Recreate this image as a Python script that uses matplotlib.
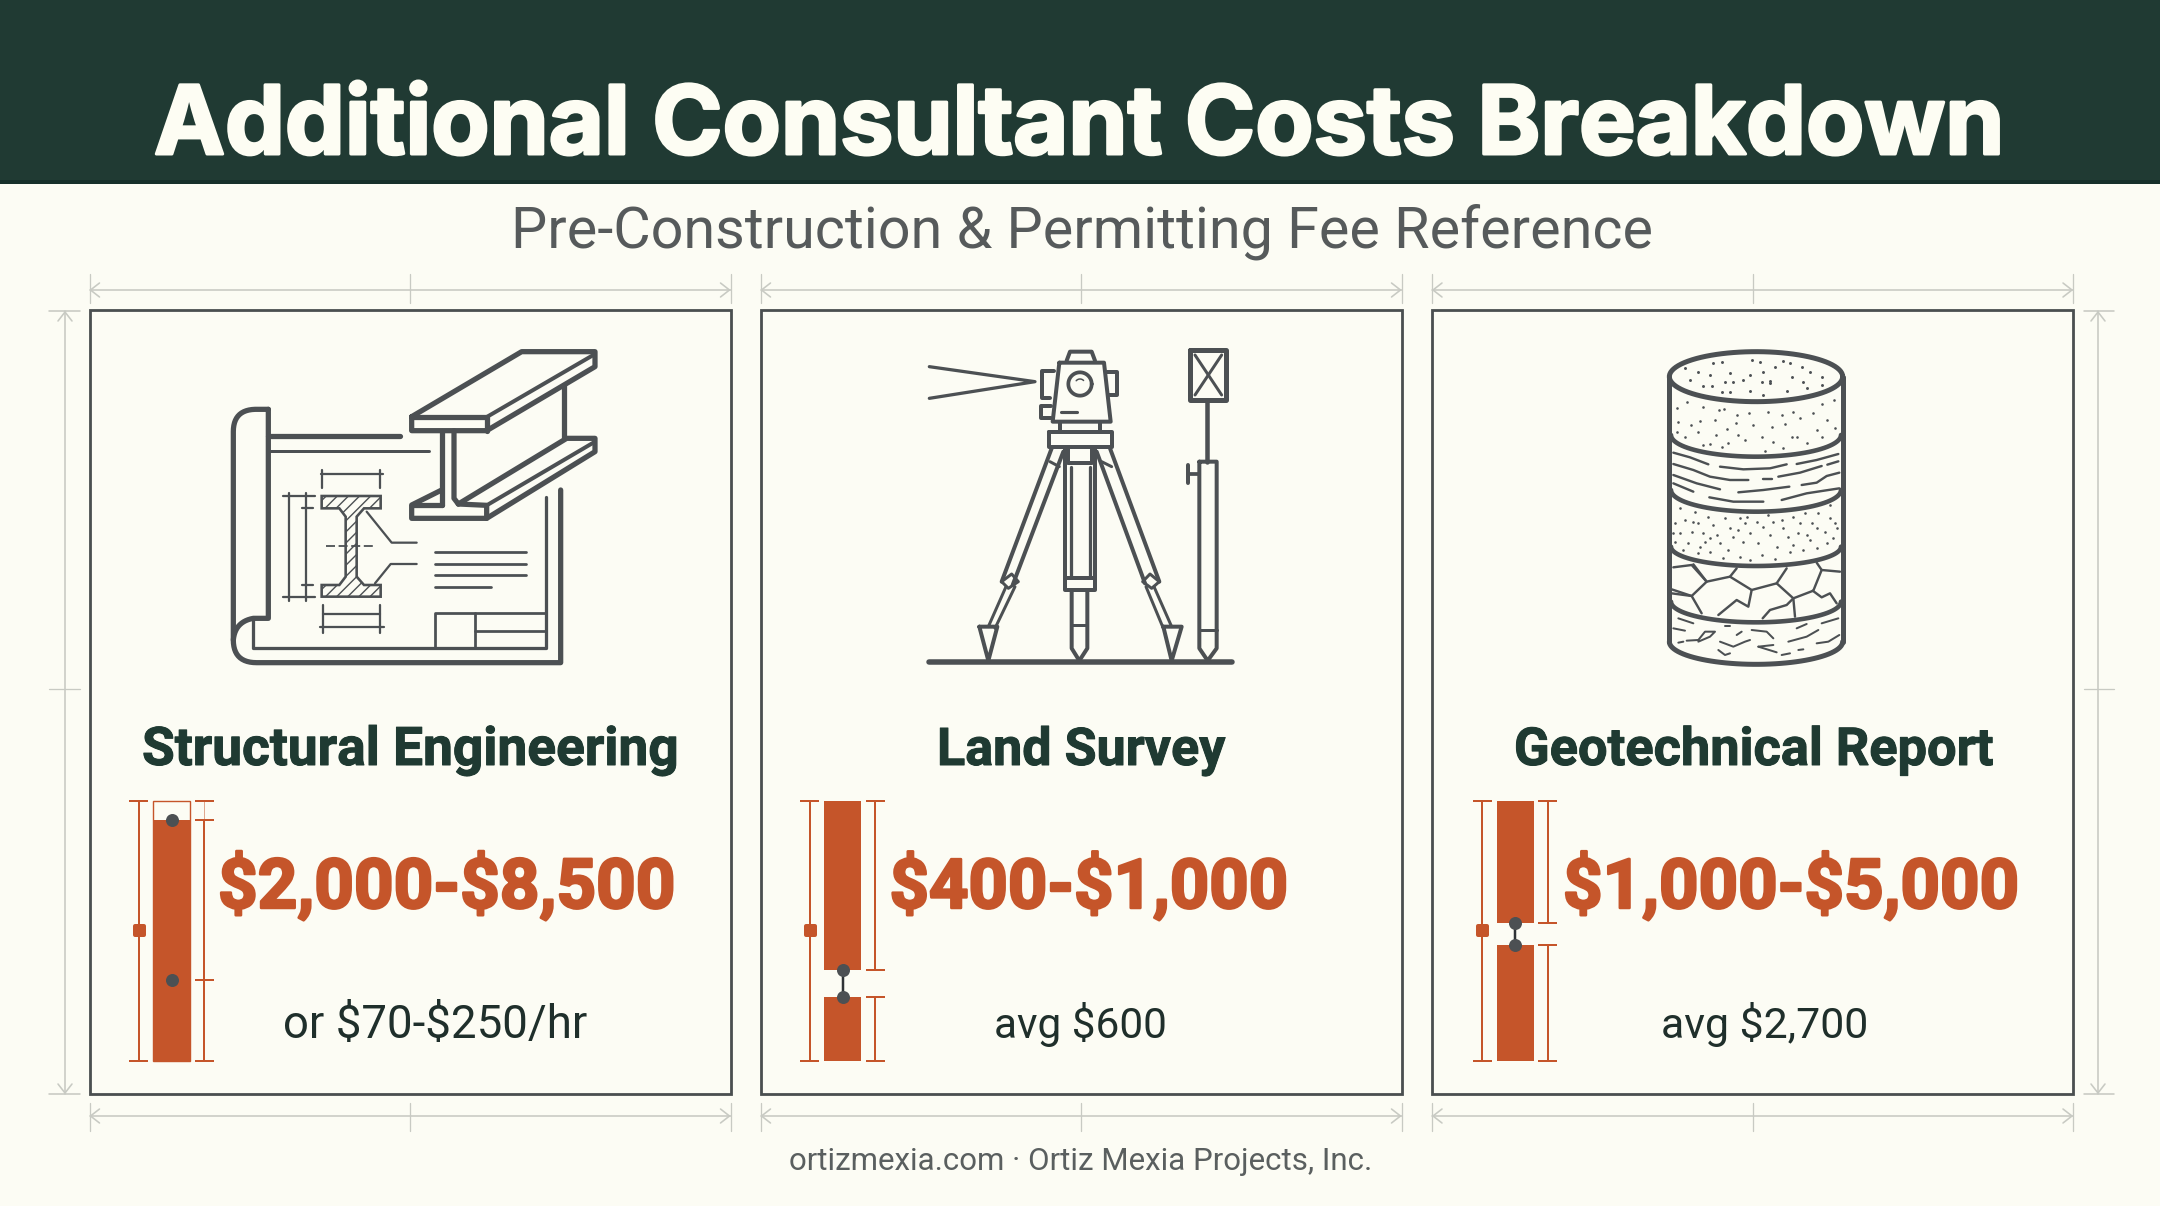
#!/usr/bin/env python3
"""Additional consultant costs infographic, drawn in pixel coordinates."""

import numpy as np
import matplotlib
matplotlib.use("Agg")
import matplotlib.pyplot as plt
import matplotlib.patheffects as pe
from matplotlib.markers import MarkerStyle
from matplotlib.patches import Polygon, Rectangle

W, H = 2160, 1206

BG = "#fcfcf4"
HEADER = "#203a33"
INK = "#4c5053"
DARK = "#1f3a32"
ORANGE = "#c5552a"
DIM = "#c8cac3"
ICON_WEIGHT = 1.25

TITLE = "Additional Consultant Costs Breakdown"
SUBTITLE = "Pre-Construction & Permitting Fee Reference"
FOOTER = "ortizmexia.com · Ortiz Mexia Projects, Inc."

CARD_TITLES = ["Structural Engineering", "Land Survey", "Geotechnical Report"]
RANGE_LABELS = ["$2,000-$8,500", "$400-$1,000", "$1,000-$5,000"]
NOTE_LABELS = ["or $70-$250/hr", "avg $600", "avg $2,700"]

# gauge readings as a share of gauge height (0 bottom, 1 top)
GAUGE_SEGMENTS = [
    [(0.0, 0.927)],
    [(0.0, 0.246), (0.35, 1.0)],
    [(0.0, 0.446), (0.531, 1.0)],
]
GAUGE_DOTS = [(0.3115, 0.927), (0.246, 0.35), (0.446, 0.531)]
GAUGE_MARK = 0.504

CARD_X = [(89.5, 730.5), (760.5, 1401.5), (1432, 2073)]
CARD_TOP, CARD_BOTTOM = 310, 1094
GAUGE_CENTER = [171.5, 842.5, 1515]
TITLE_X = [(142, 678), (937, 1225), (1514, 1993)]
RANGE_X = [(218, 675), (889.5, 1288), (1563, 2019)]
NOTE_X = [(283, 587), (994, 1167), (1661, 1868.5)]

fig = plt.figure(figsize=(W / 100, H / 100), dpi=100, facecolor=BG)
ax = fig.add_axes([0, 0, 1, 1])
ax.set_xlim(0, W)
ax.set_ylim(H, 0)
ax.axis("off")


def px(width):
    return width * 0.72


def fit_text(x0, x1, y, text, color, family, weight="normal", thicken=0):
    """Place text on baseline y, sized so it spans x0..x1."""
    t = ax.text(x0, y, text, color=color, family=family, weight=weight,
                fontsize=40, ha="left", va="baseline", parse_math=False)
    box = t.get_window_extent(fig.canvas.get_renderer())
    t.set_fontsize(40 * (x1 - x0) / box.width)
    if thicken:
        t.set_path_effects([pe.withStroke(linewidth=px(thicken), foreground=color)])
    return t


def stroke(points, width=2.0, color=INK, origin=(0, 0), scale=1.0, **kw):
    pts = np.asarray(points, dtype=float)
    ax.plot(origin[0] + pts[:, 0] * scale, origin[1] + pts[:, 1] * scale,
            color=color, lw=px(width), solid_capstyle="round",
            solid_joinstyle="round", **kw)


def curve(p0, ctrl, p1, n=14):
    s = np.linspace(0, 1, n)[:, None]
    p0, ctrl, p1 = map(np.asarray, (p0, ctrl, p1))
    return (1 - s) ** 2 * p0 + 2 * s * (1 - s) * ctrl + s ** 2 * p1


def h_dimension(x0, x1, y, top, bottom):
    stroke([(x0, y), (x1, y)], 1.6, DIM)
    for x in (x0, (x0 + x1) / 2, x1):
        stroke([(x, top), (x, bottom)], 1.3, DIM)
    stroke([(x0 + 10, y - 7), (x0 + 1, y), (x0 + 10, y + 7)], 1.6, DIM)
    stroke([(x1 - 10, y - 7), (x1 - 1, y), (x1 - 10, y + 7)], 1.6, DIM)


def v_dimension(x, y0, y1, mid, c0, c1):
    stroke([(x, y0), (x, y1)], 1.6, DIM)
    stroke([(c0, y0), (c1, y0)], 1.6, DIM)
    stroke([(c0, y1), (c1, y1)], 1.6, DIM)
    stroke([(c0, mid), (c1, mid)], 1.3, DIM)
    stroke([(x - 7, y0 + 10), (x, y0 + 1), (x + 7, y0 + 10)], 1.6, DIM)
    stroke([(x - 7, y1 - 10), (x, y1 - 1), (x + 7, y1 - 10)], 1.6, DIM)


def draw_gauge(i):
    cx = GAUGE_CENTER[i]
    g = fig.add_axes([(cx - 45) / W, 1 - 1061 / H, 90 / W, 260 / H])
    g.set_xlim(-45, 45)
    g.set_ylim(0, 1)
    g.axis("off")
    segments = GAUGE_SEGMENTS[i]
    if segments[-1][1] < 1:
        g.bar(0, 1, width=37, fill=False, edgecolor=ORANGE, lw=px(1.4), clip_on=False)
    for lo, hi in segments:
        g.bar(0, hi - lo, bottom=lo, width=37, color=ORANGE, clip_on=False)

    g.plot([-33, -33], [0, 1], color=ORANGE, lw=px(2), clip_on=False)
    for y in (0, 1):
        g.plot([-41.5, -24.5], [y, y], color=ORANGE, lw=px(2), clip_on=False)
    g.plot([-33], [GAUGE_MARK], marker=MarkerStyle("s", joinstyle="round"), ms=px(9), mew=px(4),
           color=ORANGE, clip_on=False)

    if segments[-1][1] < 1:
        g.plot([32.5, 32.5], [segments[-1][1], 1], color=ORANGE, lw=px(1), alpha=0.5, clip_on=False)
        g.plot([24, 41], [1, 1], color=ORANGE, lw=px(2), clip_on=False)
    for lo, hi in segments:
        g.plot([32.5, 32.5], [lo, hi], color=ORANGE, lw=px(2), clip_on=False)
        for y in (lo, hi):
            g.plot([24, 41], [y, y], color=ORANGE, lw=px(2), clip_on=False)

    low, high = GAUGE_DOTS[i]
    if len(segments) > 1:
        g.plot([0, 0], [low, high], color="#2f3336", lw=px(2.5), clip_on=False)
    else:
        g.plot([24, 41], [low, low], color=ORANGE, lw=px(2), clip_on=False)
    g.plot([0, 0], [low, high], ls="none", marker="o", ms=px(13), color=INK, mew=0, clip_on=False)


def draw_blueprint():
    o, k = (200, 320), 1 / 3
    def s(points, width=2.0):
        stroke(points, width * ICON_WEIGHT, origin=o, scale=k)

    # sheet and roll
    s(np.vstack([[(205, 268), (165, 268)], curve((165, 268), (100, 270), (100, 335)),
                 [(100, 960)], curve((100, 960), (100, 1028), (170, 1028)),
                 [(1082, 1028), (1082, 510)]]), 4.2)
    s(np.vstack([[(205, 268), (205, 895), (160, 895)], curve((160, 895), (105, 905), (100, 960))]), 4.2)
    s([(160, 895), (160, 985), (1038, 985), (1038, 532)], 2.6)
    s([(205, 348), (600, 348)], 4.2)
    s([(205, 392), (688, 392)], 2.4)
    # title block and notes
    s([(705, 985), (705, 880), (1035, 880)], 2.2)
    s([(826, 880), (826, 985)], 2.2)
    s([(826, 932), (1035, 932)], 2.2)
    for y, x1 in zip((695, 731, 766, 801), (978, 978, 978, 873)):
        s([(706, y), (x1, y)], 2.2)
    # hatched section
    section = np.array([(365, 528), (542, 528), (542, 565), (492, 565), (470, 590), (470, 770),
                        (492, 795), (542, 795), (542, 830), (365, 830), (365, 795), (418, 795),
                        (437, 770), (437, 590), (418, 565), (365, 565)], dtype=float)
    plt.rcParams["hatch.linewidth"] = 1.0
    ax.add_patch(Polygon(o + section * k, closed=True, fill=False, edgecolor=INK,
                         hatch="///", lw=px(2.6)))
    stroke([(378, 678), (528, 678)], 1.8, origin=o, scale=k, ls=(0, (5, 2)))
    s([(500, 575), (575, 668), (650, 668)], 1.8)
    s([(525, 790), (572, 732), (650, 732)], 1.8)
    # dimensions
    s([(362, 462), (550, 462)], 1.8)
    s([(365, 450), (365, 505)], 1.8)
    s([(540, 450), (540, 505)], 1.8)
    s([(368, 883), (540, 883)], 1.8)
    s([(360, 922), (552, 922)], 1.8)
    s([(368, 855), (368, 938)], 1.8)
    s([(540, 855), (540, 938)], 1.8)
    s([(268, 518), (268, 842)], 1.8)
    s([(318, 518), (318, 842)], 1.8)
    s([(250, 528), (345, 528)], 1.8)
    s([(305, 565), (340, 565)], 1.8)
    s([(305, 795), (340, 795)], 1.8)
    s([(250, 830), (345, 830)], 1.8)
    # steel beam in perspective
    shape = np.array([(635, 290), (965, 95), (1185, 95), (1185, 140), (1092, 195), (1092, 355),
                      (1185, 355), (1185, 395), (860, 595), (635, 595), (635, 555), (725, 510),
                      (725, 332), (635, 332)], dtype=float)
    ax.add_patch(Polygon(o + shape * k, closed=True, color=BG, zorder=2.1, lw=0))
    def b(points, width=4.2):
        stroke(points, width * ICON_WEIGHT, origin=o, scale=k, zorder=2.2)
    b([(635, 290), (965, 95), (1185, 95), (1185, 140), (860, 332), (635, 332), (635, 290)])
    b([(635, 290), (862, 290), (862, 332)])
    b([(862, 290), (1180, 105)], 3.2)
    b([(1092, 195), (1092, 355)])
    b([(725, 332), (725, 555)])
    b([(762, 332), (762, 535), (775, 552)])
    b([(775, 552), (1100, 355), (1185, 355), (1185, 395), (860, 595), (635, 595), (635, 555), (725, 510)])
    b([(635, 555), (725, 555)])
    b([(775, 552), (860, 556), (860, 595)])
    b([(860, 556), (1180, 368)], 3.2)


def draw_survey():
    o, k = (900, 320), 1 / 3
    def s(points, width=3.2):
        stroke(points, width * ICON_WEIGHT, origin=o, scale=k)

    s([(88, 1027), (995, 1027)], 4.4)
    s([(88, 140), (405, 185), (88, 235)], 2.6)
    # instrument
    s([(478, 128), (612, 128), (632, 305), (458, 305), (478, 128)])
    s([(500, 122), (510, 95), (575, 95), (585, 122)])
    s([(462, 152), (425, 152), (425, 235), (450, 235)])
    s([(620, 155), (652, 155), (652, 225), (625, 225)])
    t = np.linspace(0, 2 * np.pi, 50)
    s(np.c_[540 + 35 * np.cos(t), 192 + 35 * np.sin(t)], 3)
    s(np.c_[540 + 15 * np.cos(t[30:44]), 192 + 15 * np.sin(t[30:44])], 1.2)
    s([(452, 258), (422, 258), (422, 295), (452, 295)])
    s([(483, 275), (530, 275)], 2.5)
    s([(480, 310), (480, 337)])
    s([(600, 310), (600, 337)])
    s([(448, 337), (635, 337), (635, 380), (448, 380), (448, 337)])
    # centre column
    s([(495, 385), (495, 810), (585, 810), (585, 385)])
    s([(512, 440), (512, 772)], 2.6)
    s([(570, 440), (570, 772)], 2.6)
    s([(505, 385), (505, 428), (575, 428), (575, 385)])
    s([(495, 775), (585, 775)])
    s([(515, 810), (515, 985), (538, 1022), (562, 985), (562, 810)])
    s([(515, 915), (562, 915)], 2.4)
    # legs
    s([(455, 385), (305, 785)])
    s([(490, 395), (338, 795)])
    s([(305, 785), (335, 762), (355, 785), (325, 805), (305, 785)], 2.4)
    s([(318, 800), (265, 920)], 2.4)
    s([(345, 800), (285, 925)], 2.4)
    s([(238, 920), (292, 920), (265, 1022), (238, 920)])
    s([(450, 425), (478, 440)], 2.4)
    s([(630, 385), (778, 785)])
    s([(590, 395), (735, 790)])
    s([(778, 785), (750, 762), (728, 785), (755, 805), (778, 785)], 2.4)
    s([(762, 800), (815, 920)], 2.4)
    s([(738, 800), (790, 925)], 2.4)
    s([(790, 920), (845, 920), (815, 1022), (790, 920)])
    s([(605, 425), (635, 440)], 2.4)
    # prism pole
    s([(870, 90), (978, 90), (978, 240), (870, 240), (870, 90)], 4)
    s([(885, 105), (965, 225)], 2.4)
    s([(965, 105), (885, 225)], 2.4)
    s([(922, 240), (922, 425)], 3.6)
    s([(898, 425), (950, 425), (950, 985), (923, 1022), (898, 985), (898, 425)])
    s([(898, 930), (950, 930)], 2.4)
    s([(865, 435), (865, 490)], 3.2)
    s([(865, 462), (898, 462)], 3.0)


TOP_SPECKS = [(165, 145), (180, 180), (205, 155), (240, 165), (248, 130), (275, 127), (300, 160),
              (285, 185), (310, 185), (340, 180), (365, 120), (390, 125), (400, 155), (395, 185),
              (420, 183), (435, 142), (460, 122), (480, 128), (485, 172), (520, 187), (515, 142),
              (540, 155), (575, 170), (575, 195), (530, 205), (470, 212), (420, 190), (360, 212),
              (300, 215), (275, 215), (245, 198), (220, 197), (400, 225), (360, 165)]
SAND_SPECKS = [(140, 265), (172, 247), (220, 262), (268, 270), (282, 268), (145, 305), (182, 315),
               (210, 303), (255, 300), (320, 285), (318, 310), (358, 278), (415, 275), (455, 285),
               (490, 275), (510, 295), (550, 280), (575, 252), (612, 240), (140, 335), (205, 335),
               (290, 328), (325, 345), (370, 315), (425, 320), (465, 312), (500, 350), (560, 330),
               (590, 300), (615, 325), (165, 352), (220, 375), (258, 345), (295, 368), (345, 360),
               (395, 350), (430, 367), (485, 350), (530, 370), (575, 350), (275, 382), (405, 393),
               (460, 385), (240, 372)]
GRAVEL_SPECKS = [(150, 565), (195, 575), (235, 590), (285, 595), (330, 595), (380, 605), (430, 605),
                 (490, 590), (525, 580), (565, 578), (600, 555), (135, 610), (165, 600), (205, 610),
                 (250, 615), (300, 625), (345, 610), (400, 620), (460, 625), (510, 610), (560, 625),
                 (615, 610), (150, 640), (185, 635), (220, 640), (260, 645), (310, 650), (360, 640),
                 (420, 645), (475, 650), (530, 645), (585, 635), (620, 625), (135, 665), (175, 670),
                 (210, 680), (240, 655), (295, 690), (340, 665), (385, 670), (440, 680), (490, 675),
                 (540, 660), (590, 670), (610, 655), (160, 690), (205, 700), (240, 695), (280, 715),
                 (330, 710), (360, 720), (395, 705), (435, 718), (480, 695), (520, 690), (560, 685),
                 (225, 665), (270, 670), (325, 630), (455, 600), (505, 640), (545, 610), (190, 605),
                 (415, 585), (350, 590), (130, 640), (600, 595)]
CLAY_LINES = [[(130, 398), (180, 412), (235, 433)], [(270, 440), (340, 448), (420, 445), (470, 433)],
              [(500, 432), (560, 420), (625, 402)], [(592, 434), (625, 424)],
              [(130, 432), (190, 450), (240, 470), (300, 480), (355, 480)], [(398, 478), (425, 478)],
              [(445, 470), (510, 458), (575, 438)], [(130, 465), (200, 490), (270, 508)],
              [(515, 495), (560, 488), (590, 468), (628, 458)], [(130, 490), (190, 515)],
              [(325, 517), (400, 510), (478, 500)], [(238, 532), (310, 545), (400, 545)],
              [(455, 540), (530, 520), (628, 505)]]
ROCK_LINES = [[(130, 742), (185, 735), (230, 785), (185, 828), (125, 808)],
              [(190, 733), (230, 785), (300, 770), (320, 745)],
              [(300, 770), (365, 810), (440, 790), (470, 745)],
              [(440, 790), (490, 835), (550, 812), (575, 750), (560, 728)], [(575, 750), (630, 755)],
              [(125, 820), (185, 828), (215, 880)], [(365, 810), (355, 860), (320, 840), (265, 885)],
              [(490, 835), (470, 855), (420, 870), (398, 895)], [(490, 835), (495, 890)],
              [(548, 812), (575, 832), (600, 820), (620, 850)]]
BASE_LINES = [[(145, 895), (190, 910)], [(130, 925), (165, 932)], [(145, 968), (160, 965)],
              [(170, 962), (205, 960), (225, 935), (255, 935), (240, 950), (205, 965)],
              [(270, 965), (310, 980), (345, 965), (360, 960)], [(320, 945), (335, 935)],
              [(365, 930), (410, 935), (430, 955)], [(385, 980), (430, 975)], [(385, 980), (440, 997)],
              [(265, 990), (285, 1005), (300, 1000)], [(475, 965), (530, 950), (565, 930)],
              [(500, 925), (530, 912)], [(575, 910), (625, 895)], [(560, 970), (595, 965), (628, 945)],
              [(455, 1005), (480, 1000)], [(505, 990), (520, 988)], [(285, 918), (300, 918)]]


def draw_core():
    o, k = (1630, 320), 1 / 3
    def s(points, width=3.6):
        stroke(points, width, origin=o, scale=k)

    t = np.linspace(0, 2 * np.pi, 90)
    low = np.linspace(0, np.pi, 50)
    s(np.c_[378 + 260 * np.cos(t), 170 + 75 * np.sin(t)], 5)
    s([(118, 170), (118, 965)], 5)
    s([(640, 170), (640, 965)], 5)
    s(np.c_[378 + 260 * np.cos(low), 965 + 68 * np.sin(low)], 5)
    for y, depth in zip((345, 510, 680, 845), (65, 65, 58, 62)):
        s(np.c_[378 + 255 * np.cos(low), y + depth * np.sin(low)], 4.6)
    for specks, size in ((TOP_SPECKS, 4.5), (SAND_SPECKS, 3.5), (GRAVEL_SPECKS, 3.5)):
        pts = np.array(specks, dtype=float)
        ax.scatter(o[0] + pts[:, 0] * k, o[1] + pts[:, 1] * k, s=size, color=INK, lw=0)
    for group, width in ((CLAY_LINES, 2.4), (ROCK_LINES, 2.4), (BASE_LINES, 2)):
        for line in group:
            s(line, width)


# header band
ax.add_patch(Rectangle((0, 0), W, 184, color=HEADER, lw=0))
ax.add_patch(Rectangle((0, 180), W, 4, color="#17302a", lw=0))
fit_text(154, 2006, 154, TITLE, "#fdfdf3", "Inter", "bold", thicken=3)
fit_text(511, 1650, 248, SUBTITLE, "#565a5b", "Roboto")

for i, (x0, x1) in enumerate(CARD_X):
    h_dimension(x0, x1, 290, 274, 303)
    h_dimension(x0, x1, 1116, 1103, 1131)
    ax.add_patch(Rectangle((x0, CARD_TOP), x1 - x0, CARD_BOTTOM - CARD_TOP, fill=False,
                           edgecolor="#4a4f50", lw=px(2.8)))
    fit_text(*TITLE_X[i], 765, CARD_TITLES[i], DARK, "Roboto", "bold", thicken=1)
    fit_text(*RANGE_X[i], 908, RANGE_LABELS[i], ORANGE, "Roboto", "bold", thicken=2.5)
    fit_text(*NOTE_X[i], 1038, NOTE_LABELS[i], "#1f2f2b", "Roboto")
    draw_gauge(i)

v_dimension(65, 311, 1094, 689, 49, 80)
v_dimension(2098, 311, 1094, 689, 2084, 2114)

draw_blueprint()
draw_survey()
draw_core()

fit_text(789, 1372, 1170, FOOTER, "#5a5f5f", "Roboto")

fig.savefig("out.png", dpi=100, facecolor=BG)
plt.close(fig)
